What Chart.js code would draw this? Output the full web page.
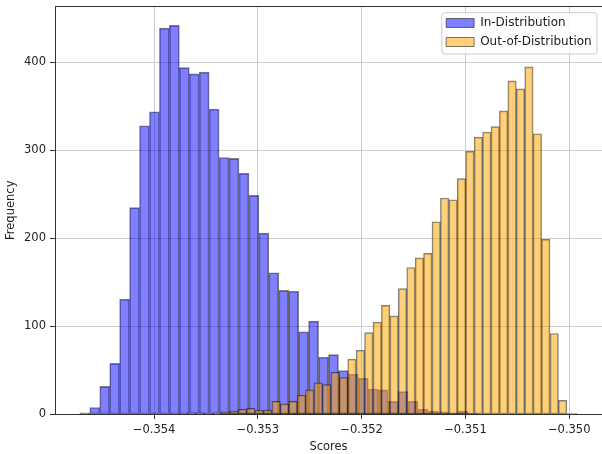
<!DOCTYPE html>
<html>
<head>
<meta charset="utf-8">
<title>Score distributions</title>
<script src="https://cdn.jsdelivr.net/npm/chart.js@4/dist/chart.umd.min.js"></script>
<style>
  html, body { margin: 0; padding: 0; background: #ffffff; }
  #wrap { width: 602px; height: 454px; }
</style>
</head>
<body>
<div id="wrap"><canvas id="chart" width="602" height="454"></canvas></div>
<script>
// Histogram counts, 50 equal-width bins per series
const inDistCounts = [
  2, 8, 32, 58, 131, 235, 328, 344, 439, 442,
  394, 387, 389, 347, 292, 291, 274, 249, 206, 161,
  141, 140, 94, 106, 65, 68, 50, 46, 41, 29,
  28, 15, 26, 15, 6, 4, 3, 2, 4, 1,
  0, 0, 0, 0, 0, 0, 0, 0, 0, 1
];
const outDistCounts = [
  0, 1, 0, 1, 1, 2, 2, 1, 2, 3,
  4, 6, 7, 5, 5, 15, 12, 15, 22, 28,
  36, 34, 48, 42, 63, 73, 93, 105, 124, 112,
  143, 167, 178, 183, 219, 246, 244, 268, 299, 315,
  321, 327, 345, 379, 370, 395, 319, 199, 92, 16
];

// First and last bin edge of each histogram
const inDistRange = [-0.3547153, -0.3499236];
const outDistRange = [-0.3540832, -0.3500227];

const seriesLabels = ['In-Distribution', 'Out-of-Distribution'];
const xTickValues = [-0.354, -0.353, -0.352, -0.351, -0.350];
const xTickLabels = ['\u22120.354', '\u22120.353', '\u22120.352', '\u22120.351', '\u22120.350'];
const yTickValues = [0, 100, 200, 300, 400];
const xLimits = [-0.3549549, -0.3496840];
const yLimits = [0, 464.1];

// Bin centres from the histogram range
function binPoints(counts, range) {
  const width = (range[1] - range[0]) / counts.length;
  return counts.map((c, i) => ({ x: range[0] + (i + 0.5) * width, y: c }));
}

const FONT_FAMILY = '"DejaVu Sans", "Liberation Sans", sans-serif';
const TEXT_COLOR = '#222222';
const SPINE_COLOR = '#333333';
const GRID_COLOR = '#cccccc';
const LEGEND_FONT_SIZE = 12;

Chart.defaults.font.family = FONT_FAMILY;
Chart.defaults.font.size = 11.5;
Chart.defaults.color = TEXT_COLOR;

// Legend placed in the upper right of the plot, drawn on a framed panel above the bars
const legendPanel = {
  id: 'legendPanel',
  beforeLayout(chart) {
    const lg = chart.legend;
    if (!lg || lg._panelled) return;
    lg._panelled = true;
    lg._layers = () => [{
      z: 1,
      draw: (area) => {
        const f = lg._panelFrame;
        if (f) {
          const ctx = chart.ctx;
          ctx.save();
          ctx.beginPath();
          if (ctx.roundRect) ctx.roundRect(f.x, f.y, f.w, f.h, 3);
          else ctx.rect(f.x, f.y, f.w, f.h);
          ctx.fillStyle = 'rgba(255,255,255,0.8)';
          ctx.fill();
          ctx.lineWidth = 1;
          ctx.strokeStyle = '#cccccc';
          ctx.stroke();
          ctx.restore();
        }
        lg.draw(area);
      }
    }];
  },
  afterLayout(chart) {
    const lg = chart.legend;
    if (!lg) return;
    const ca = chart.chartArea;
    const lab = lg.options.labels;
    const ctx = chart.ctx;
    ctx.save();
    ctx.font = LEGEND_FONT_SIZE + 'px ' + FONT_FAMILY;
    const textW = Math.max(...seriesLabels.map(t => ctx.measureText(t).width));
    ctx.restore();
    const frameRight = ca.right - 5;
    const boxLeft = frameRight - 5.3 - textW - LEGEND_FONT_SIZE / 2 - lab.boxWidth;
    lg.left = boxLeft - lab.padding;
    lg.top = ca.top + 4;
    lg.width = frameRight - lg.left + 10;
    lg.height = 70;
    lg.right = lg.left + lg.width;
    lg.bottom = lg.top + lg.height;
    const firstY = lg.top + lab.padding;
    const n = seriesLabels.length;
    const lastBottom = firstY + (n - 1) * (LEGEND_FONT_SIZE + lab.padding) + LEGEND_FONT_SIZE;
    lg._panelFrame = {
      x: boxLeft - 4.3,
      y: firstY - 4.3,
      w: frameRight - (boxLeft - 4.3),
      h: lastBottom + 6 - (firstY - 4.3)
    };
  }
};

const xTicksFromList = (scale) => { scale.ticks = xTickValues.map(v => ({ value: v })); };
const noEdgePadding = (scale) => {
  scale.paddingTop = 0;
  scale.paddingBottom = 0;
  scale.paddingLeft = 0;
  scale.paddingRight = 0;
};

new Chart(document.getElementById('chart'), {
  type: 'bar',
  data: {
    datasets: [
      {
        label: seriesLabels[0],
        data: binPoints(inDistCounts, inDistRange),
        xAxisID: 'x',
        yAxisID: 'y',
        backgroundColor: 'rgba(0,0,255,0.5)',
        borderColor: 'rgba(0,0,0,0.5)',
        borderWidth: 1,
        borderSkipped: false,
        barPercentage: 1,
        categoryPercentage: 1,
        grouped: false,
        order: 1
      },
      {
        label: seriesLabels[1],
        data: binPoints(outDistCounts, outDistRange),
        xAxisID: 'x2',
        yAxisID: 'y',
        backgroundColor: 'rgba(255,165,0,0.52)',
        borderColor: 'rgba(0,0,0,0.5)',
        borderWidth: 1,
        borderSkipped: false,
        barPercentage: 1,
        categoryPercentage: 1,
        grouped: false,
        order: 0
      }
    ]
  },
  options: {
    responsive: false,
    devicePixelRatio: 1,
    animation: false,
    layout: { padding: 0 },
    scales: {
      x: {
        type: 'linear',
        position: 'bottom',
        min: xLimits[0],
        max: xLimits[1],
        offset: false,
        afterBuildTicks: xTicksFromList,
        afterFit: (s) => { s.height = 39.5; noEdgePadding(s); },
        ticks: {
          autoSkip: false,
          maxRotation: 0,
          padding: 4,
          color: TEXT_COLOR,
          callback: (v) => {
            const i = xTickValues.findIndex(t => Math.abs(t - v) < 1e-9);
            return i >= 0 ? xTickLabels[i] : '';
          }
        },
        grid: {
          offset: false,
          color: GRID_COLOR,
          lineWidth: 1,
          drawTicks: true,
          tickLength: 4.5,
          tickColor: SPINE_COLOR
        },
        border: { display: true, color: SPINE_COLOR, width: 1 },
        title: { display: true, text: 'Scores', color: TEXT_COLOR, padding: { top: 0, bottom: 0 } }
      },
      x2: {
        type: 'linear',
        position: 'top',
        min: xLimits[0],
        max: xLimits[1],
        offset: false,
        afterBuildTicks: xTicksFromList,
        afterFit: (s) => { s.height = 6; noEdgePadding(s); },
        ticks: { display: false },
        grid: { display: false, drawTicks: false, offset: false },
        border: { display: true, color: SPINE_COLOR, width: 1 }
      },
      y: {
        type: 'linear',
        position: 'left',
        min: yLimits[0],
        max: yLimits[1],
        afterBuildTicks: (s) => { s.ticks = yTickValues.map(v => ({ value: v })); },
        afterFit: (s) => { s.width = 55; noEdgePadding(s); },
        ticks: { padding: 4, color: TEXT_COLOR },
        grid: {
          color: GRID_COLOR,
          lineWidth: 1,
          drawTicks: true,
          tickLength: 5,
          tickColor: SPINE_COLOR
        },
        border: { display: true, color: SPINE_COLOR, width: 1 },
        title: { display: true, text: 'Frequency', color: TEXT_COLOR, padding: { top: 4, bottom: 0 } }
      }
    },
    plugins: {
      legend: {
        position: 'chartArea',
        align: 'start',
        labels: {
          boxWidth: 28,
          boxHeight: 9,
          padding: 7,
          color: TEXT_COLOR,
          font: { size: LEGEND_FONT_SIZE },
          sort: (a, b) => a.datasetIndex - b.datasetIndex
        }
      },
      tooltip: { enabled: false }
    }
  },
  plugins: [legendPanel]
});
</script>
</body>
</html>
